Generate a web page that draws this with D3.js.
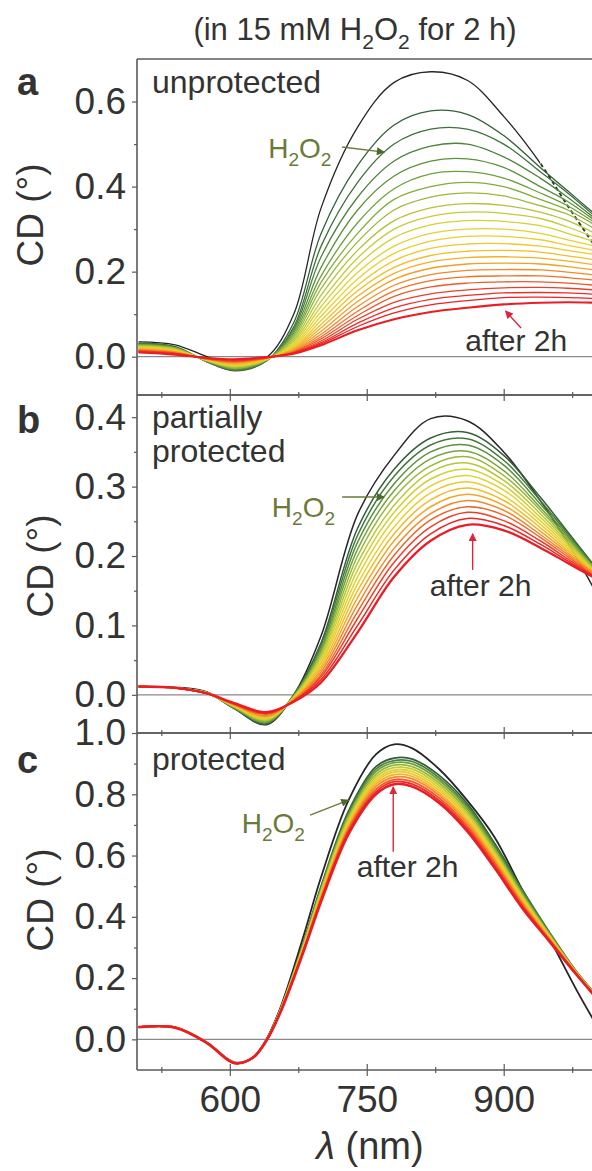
<!DOCTYPE html>
<html><head><meta charset="utf-8">
<script src="https://cdn.jsdelivr.net/npm/d3@7"></script>
<style>
body{margin:0;background:#fff;}
svg{display:block;}
text{font-family:"Liberation Sans",Arial,Helvetica,sans-serif;fill:#333;}
</style>
</head><body>
<svg id="chart" width="592" height="1171"></svg>
<script>
// ---------- DATA ----------
const wavelengthsAB = [500, 540, 575, 605, 640, 670, 700, 740, 780, 820, 860, 900, 940, 970, 1000];
const wavelengthsC  = [500, 540, 575, 605, 625, 640, 655, 680, 700, 730, 760, 780, 800, 830, 860, 890, 920, 950, 980, 1000];

// panel a (unprotected): first = before H2O2 (black), last = after 2 h (red)
const curvesA = [
 [0.035,0.028,0.000,-0.022,-0.002,0.100,0.350,0.540,0.645,0.670,0.650,0.565,0.455,0.355,0.260],
 [0.032,0.024,-0.012,-0.033,-0.010,0.080,0.290,0.450,0.545,0.578,0.570,0.520,0.445,0.390,0.335],
 [0.031,0.023,-0.012,-0.032,-0.010,0.070,0.260,0.410,0.500,0.535,0.535,0.500,0.435,0.385,0.330],
 [0.030,0.022,-0.011,-0.031,-0.009,0.065,0.235,0.375,0.460,0.495,0.500,0.470,0.420,0.375,0.325],
 [0.029,0.021,-0.011,-0.029,-0.009,0.060,0.210,0.345,0.425,0.460,0.465,0.445,0.400,0.365,0.320],
 [0.028,0.021,-0.010,-0.028,-0.008,0.055,0.190,0.315,0.395,0.430,0.435,0.420,0.385,0.355,0.315],
 [0.027,0.020,-0.010,-0.027,-0.008,0.050,0.175,0.290,0.370,0.400,0.410,0.400,0.370,0.345,0.310],
 [0.026,0.019,-0.010,-0.026,-0.008,0.045,0.160,0.270,0.345,0.375,0.385,0.378,0.355,0.335,0.300],
 [0.025,0.018,-0.009,-0.024,-0.007,0.040,0.145,0.250,0.320,0.350,0.360,0.356,0.340,0.320,0.290],
 [0.024,0.017,-0.009,-0.023,-0.007,0.036,0.130,0.232,0.300,0.330,0.340,0.337,0.325,0.305,0.280],
 [0.023,0.016,-0.008,-0.022,-0.006,0.032,0.118,0.215,0.280,0.310,0.320,0.318,0.308,0.290,0.270],
 [0.022,0.015,-0.008,-0.021,-0.006,0.028,0.106,0.198,0.260,0.290,0.300,0.300,0.290,0.275,0.260],
 [0.021,0.015,-0.008,-0.020,-0.006,0.025,0.095,0.183,0.243,0.272,0.283,0.283,0.275,0.262,0.250],
 [0.020,0.014,-0.007,-0.018,-0.005,0.022,0.085,0.168,0.226,0.255,0.265,0.266,0.260,0.250,0.240],
 [0.019,0.013,-0.007,-0.017,-0.005,0.020,0.076,0.155,0.210,0.238,0.248,0.250,0.246,0.237,0.228],
 [0.018,0.012,-0.006,-0.016,-0.004,0.018,0.068,0.142,0.196,0.223,0.233,0.235,0.232,0.225,0.216],
 [0.017,0.011,-0.006,-0.015,-0.004,0.016,0.060,0.130,0.182,0.208,0.218,0.220,0.218,0.212,0.204],
 [0.016,0.010,-0.005,-0.013,-0.003,0.014,0.053,0.118,0.168,0.193,0.203,0.205,0.204,0.199,0.192],
 [0.015,0.009,-0.005,-0.012,-0.003,0.012,0.047,0.107,0.155,0.179,0.188,0.190,0.190,0.186,0.180],
 [0.014,0.008,-0.005,-0.011,-0.003,0.011,0.042,0.097,0.142,0.164,0.173,0.176,0.176,0.173,0.168],
 [0.013,0.008,-0.004,-0.010,-0.002,0.010,0.037,0.088,0.128,0.148,0.157,0.162,0.163,0.161,0.157],
 [0.012,0.007,-0.004,-0.008,-0.002,0.009,0.033,0.079,0.115,0.135,0.144,0.150,0.151,0.150,0.147],
 [0.011,0.006,-0.003,-0.007,-0.001,0.008,0.030,0.071,0.103,0.122,0.132,0.139,0.140,0.139,0.137],
 [0.010,0.005,-0.003,-0.006,-0.001,0.007,0.027,0.062,0.088,0.105,0.115,0.123,0.127,0.128,0.127]
];

// panel b (partially protected)
const curvesB = [
 [0.012,0.011,0.004,-0.020,-0.043,0.000,0.085,0.260,0.345,0.398,0.395,0.350,0.280,0.220,0.150],
 [0.012,0.010,0.003,-0.020,-0.042,0.000,0.075,0.240,0.325,0.370,0.378,0.345,0.285,0.235,0.185],
 [0.012,0.010,0.003,-0.019,-0.041,-0.001,0.071,0.230,0.315,0.360,0.369,0.338,0.280,0.232,0.184],
 [0.012,0.010,0.003,-0.019,-0.040,-0.001,0.067,0.220,0.304,0.350,0.360,0.331,0.275,0.229,0.183],
 [0.012,0.010,0.003,-0.018,-0.039,-0.002,0.064,0.210,0.294,0.340,0.351,0.323,0.270,0.226,0.182],
 [0.012,0.010,0.003,-0.018,-0.037,-0.003,0.060,0.200,0.284,0.330,0.343,0.316,0.266,0.223,0.180],
 [0.012,0.010,0.003,-0.017,-0.036,-0.003,0.056,0.190,0.273,0.321,0.334,0.309,0.261,0.220,0.179],
 [0.012,0.010,0.003,-0.017,-0.035,-0.004,0.052,0.180,0.263,0.311,0.325,0.302,0.256,0.217,0.178],
 [0.012,0.010,0.002,-0.016,-0.034,-0.005,0.048,0.170,0.253,0.301,0.316,0.295,0.251,0.214,0.177],
 [0.012,0.010,0.002,-0.016,-0.033,-0.005,0.045,0.160,0.242,0.291,0.307,0.287,0.246,0.211,0.176],
 [0.012,0.010,0.002,-0.015,-0.032,-0.006,0.041,0.150,0.232,0.281,0.298,0.280,0.241,0.208,0.175],
 [0.012,0.010,0.002,-0.015,-0.031,-0.007,0.037,0.140,0.222,0.271,0.289,0.273,0.236,0.205,0.174],
 [0.012,0.010,0.002,-0.014,-0.030,-0.007,0.033,0.130,0.211,0.261,0.280,0.266,0.231,0.202,0.173],
 [0.012,0.010,0.002,-0.014,-0.028,-0.008,0.029,0.120,0.201,0.252,0.271,0.259,0.227,0.199,0.171],
 [0.012,0.010,0.002,-0.013,-0.027,-0.009,0.026,0.110,0.191,0.242,0.263,0.251,0.222,0.196,0.170],
 [0.012,0.010,0.002,-0.013,-0.026,-0.009,0.022,0.100,0.180,0.232,0.254,0.244,0.217,0.193,0.169],
 [0.012,0.010,0.002,-0.012,-0.025,-0.010,0.018,0.090,0.170,0.222,0.245,0.237,0.212,0.190,0.168]
];

// panel c (protected)
const curvesC = [
 [0.040,0.040,-0.010,-0.075,-0.060,0.000,0.100,0.330,0.530,0.780,0.930,0.963,0.950,0.880,0.780,0.660,0.490,0.330,0.160,0.055],
 [0.040,0.039,-0.011,-0.077,-0.061,-0.003,0.095,0.310,0.500,0.745,0.890,0.918,0.915,0.860,0.770,0.640,0.490,0.350,0.220,0.150],
 [0.040,0.039,-0.011,-0.077,-0.061,-0.004,0.094,0.307,0.495,0.738,0.882,0.910,0.907,0.852,0.762,0.633,0.485,0.347,0.219,0.149],
 [0.040,0.039,-0.011,-0.077,-0.061,-0.004,0.093,0.305,0.491,0.731,0.874,0.903,0.899,0.844,0.754,0.625,0.479,0.345,0.218,0.148],
 [0.040,0.039,-0.011,-0.077,-0.061,-0.004,0.092,0.302,0.486,0.725,0.865,0.895,0.890,0.835,0.745,0.618,0.474,0.342,0.217,0.147],
 [0.040,0.039,-0.011,-0.077,-0.061,-0.004,0.091,0.299,0.482,0.718,0.857,0.887,0.882,0.827,0.737,0.611,0.468,0.339,0.216,0.146],
 [0.040,0.039,-0.011,-0.077,-0.061,-0.004,0.090,0.296,0.477,0.711,0.849,0.879,0.874,0.819,0.729,0.604,0.463,0.336,0.215,0.145],
 [0.040,0.039,-0.011,-0.077,-0.061,-0.004,0.090,0.294,0.473,0.704,0.841,0.872,0.866,0.811,0.721,0.596,0.457,0.334,0.215,0.145],
 [0.040,0.039,-0.011,-0.077,-0.061,-0.004,0.089,0.291,0.468,0.697,0.833,0.864,0.858,0.803,0.713,0.589,0.452,0.331,0.214,0.144],
 [0.040,0.039,-0.011,-0.077,-0.061,-0.004,0.088,0.288,0.464,0.690,0.825,0.856,0.850,0.795,0.705,0.582,0.446,0.328,0.213,0.143],
 [0.040,0.039,-0.011,-0.077,-0.061,-0.004,0.087,0.285,0.459,0.684,0.816,0.848,0.841,0.786,0.696,0.575,0.441,0.325,0.212,0.142],
 [0.040,0.039,-0.011,-0.077,-0.061,-0.004,0.086,0.283,0.455,0.677,0.808,0.841,0.833,0.778,0.688,0.567,0.435,0.323,0.211,0.141],
 [0.040,0.038,-0.012,-0.078,-0.060,-0.005,0.085,0.280,0.450,0.670,0.800,0.833,0.825,0.770,0.680,0.560,0.430,0.320,0.210,0.140]
];

const yMajorA = [0.0, 0.2, 0.4, 0.6], yMinorA = [0.1, 0.3, 0.5];
const yMajorB = [0.0, 0.1, 0.2, 0.3, 0.4], yMinorB = [0.05, 0.15, 0.25, 0.35];
const yMajorC = [0.0, 0.2, 0.4, 0.6, 0.8, 1.0], yMinorC = [0.1, 0.3, 0.5, 0.7, 0.9];
const xMajor = [600, 750, 900], xMinor = [525, 675, 825, 975];
const panelLetters = ["a", "b", "c"];
const panelNames = [["unprotected"], ["partially", "protected"], ["protected"]];
const titleParts = [["(in 15 mM H", 0], ["2", 1], ["O", 0], ["2", 1], [" for 2 h)", 0]];
// black curve of panel a is drawn dashed beyond this wavelength
const dashFromA = 940;
// annotations in data coordinates: [textλ, textV, tailλ, tailV, tipλ, tipV]
const annotH2O2 = [[642, 0.467, 723, 0.493, 769, 0.481], [646, 0.256, 723, 0.285, 769, 0.285], [613, 0.674, 688, 0.732, 730, 0.781]];
const annotAfter = [[858, 0.0135, 919, 0.0675, 902, 0.1075], [819, 0.142, 866, 0.180, 866, 0.232], [739, 0.530, 779, 0.612, 779, 0.824]];

// ---------- LAYOUT ----------
const svg = d3.select("#chart");
const x = d3.scaleLinear().domain([500, 1000]).range([138.5, 595]);
const axisX = 137, frameRight = 592;
const panels = [
  {top: 59,  bottom: 395,  domain: [-0.09, 0.70],  major: yMajorA, minor: yMinorA, curves: curvesA, wl: wavelengthsAB, lw: 1.3, letterY: 95,  names: [93], cdY: 215, cdX: 43, dashFrom: dashFromA},
  {top: 395, bottom: 733,  domain: [-0.055, 0.432], major: yMajorB, minor: yMinorB, curves: curvesB, wl: wavelengthsAB, lw: 1.5, letterY: 433, names: [428, 462], cdY: 566, cdX: 53},
  {top: 733, bottom: 1070, domain: [-0.1, 1.0],    major: yMajorC, minor: yMinorC, curves: curvesC, wl: wavelengthsC, lw: 1.8, letterY: 773, names: [770], cdY: 900, cdX: 53}
];
const palette = ["#33603a", "#4f8a3c", "#80ad3a", "#b9c93a", "#e2d630", "#f0cb2a", "#f4a824", "#f3712a", "#ee2a26", "#ec1c24"];
const colorOf = (k, n) => k === 0 ? "#262626" : d3.interpolateRgbBasis(palette)((k - 1) / (n - 2));
const frameColor = "#5a5a5a", olive = "#6b7a38", arrowGreen = "#4a6a2a", redText = "#e03444";

const defs = svg.append("defs");
function marker(id, color) {
  defs.append("marker").attr("id", id).attr("viewBox", "0 0 10 10").attr("refX", 9).attr("refY", 5)
    .attr("markerWidth", 9).attr("markerHeight", 8).attr("markerUnits", "userSpaceOnUse").attr("orient", "auto")
    .append("path").attr("d", "M0,0 L10,5 L0,10 z").attr("fill", color);
}
marker("arrG", arrowGreen); marker("arrR", "#d8283a");

function chem(textSel, parts, fs) {
  parts.forEach(([s, sub], i) => {
    const prevSub = i > 0 && parts[i - 1][1];
    const t = textSel.append("tspan").text(s);
    if (sub) t.attr("font-size", fs * 0.68).attr("dy", fs * 0.28);
    else if (prevSub) t.attr("dy", -fs * 0.28);
  });
}

panels.forEach((p, pi) => {
  const y = d3.scaleLinear().domain(p.domain).range([p.bottom, p.top]);
  const g = svg.append("g");
  const clipId = "clip" + pi;
  defs.append("clipPath").attr("id", clipId).append("rect")
    .attr("x", axisX).attr("y", p.top).attr("width", frameRight - axisX).attr("height", p.bottom - p.top);

  // zero line
  g.append("line").attr("x1", axisX).attr("x2", frameRight).attr("y1", y(0)).attr("y2", y(0))
    .attr("stroke", "#8a8a8a").attr("stroke-width", 1.3);

  // curves
  const line = d3.line().x(d => x(d[0])).y(d => y(d[1])).curve(d3.curveCatmullRom.alpha(0.5));
  const cg = g.append("g").attr("clip-path", `url(#${clipId})`);
  const n = p.curves.length;
  p.curves.forEach((vals, k) => {
    const pts = vals.map((v, i) => [p.wl[i], v]);
    if (k === 0 && p.dashFrom) {
      const c1 = "clipS" + pi, c2 = "clipD" + pi;
      defs.append("clipPath").attr("id", c1).append("rect").attr("x", axisX).attr("y", p.top)
        .attr("width", x(p.dashFrom) - axisX).attr("height", p.bottom - p.top);
      defs.append("clipPath").attr("id", c2).append("rect").attr("x", x(p.dashFrom)).attr("y", p.top)
        .attr("width", frameRight - x(p.dashFrom)).attr("height", p.bottom - p.top);
      cg.append("path").datum(pts).attr("d", line).attr("fill", "none").attr("stroke", colorOf(0, n))
        .attr("stroke-width", p.lw).attr("clip-path", `url(#${c1})`);
      cg.append("path").datum(pts).attr("d", line).attr("fill", "none").attr("stroke", "#2a3a22")
        .attr("stroke-width", p.lw + 0.6).attr("stroke-dasharray", "4,3").attr("clip-path", `url(#${c2})`);
      return;
    }
    cg.append("path").datum(pts)
      .attr("d", line).attr("fill", "none")
      .attr("stroke", colorOf(k, n))
      .attr("stroke-width", k === n - 1 ? p.lw + 0.8 : p.lw)
      .attr("stroke-linejoin", "round");
  });

  // y axis
  const ya = g.append("g").attr("transform", `translate(${axisX},0)`)
    .call(d3.axisLeft(y).tickValues(p.major).tickSize(5).tickSizeOuter(0).tickPadding(6).tickFormat(d3.format(".1f")));
  ya.select(".domain").remove();
  ya.selectAll("line").attr("stroke", frameColor).attr("stroke-width", 1.2);
  ya.selectAll("text").attr("font-size", 37).attr("fill", "#333").attr("font-family", "Liberation Sans, Arial, sans-serif");
  const ym = g.append("g").attr("transform", `translate(${axisX},0)`)
    .call(d3.axisLeft(y).tickValues(p.minor).tickSize(3).tickSizeOuter(0).tickFormat(""));
  ym.select(".domain").remove();
  ym.selectAll("line").attr("stroke", frameColor).attr("stroke-width", 1.2);

  // bottom x axis of panel (ticks crossing both ways)
  [d3.axisBottom, d3.axisTop].forEach(ax => {
    const a1 = g.append("g").attr("transform", `translate(0,${p.bottom})`)
      .call(ax(x).tickValues(xMajor).tickSize(6).tickSizeOuter(0).tickFormat(""));
    a1.select(".domain").remove();
    a1.selectAll("line").attr("stroke", frameColor).attr("stroke-width", 1.2);
    const a2 = g.append("g").attr("transform", `translate(0,${p.bottom})`)
      .call(ax(x).tickValues(xMinor).tickSize(3).tickSizeOuter(0).tickFormat(""));
    a2.select(".domain").remove();
    a2.selectAll("line").attr("stroke", frameColor).attr("stroke-width", 1.2);
  });

  // frame
  g.append("line").attr("x1", axisX).attr("x2", axisX).attr("y1", p.top).attr("y2", p.bottom)
    .attr("stroke", frameColor).attr("stroke-width", 1.6);
  [p.top, p.bottom].forEach(yy => g.append("line").attr("x1", axisX).attr("x2", frameRight)
    .attr("y1", yy).attr("y2", yy).attr("stroke", frameColor).attr("stroke-width", 1.6));

  // letter, names, y title
  svg.append("text").attr("x", 17).attr("y", p.letterY).attr("font-size", 38).attr("font-weight", "bold")
    .attr("fill", "#111").text(panelLetters[pi]);
  panelNames[pi].forEach((s, j) => svg.append("text").attr("x", 152).attr("y", p.names[j])
    .attr("font-size", 32).text(s));
  svg.append("text").attr("transform", `translate(${p.cdX},${p.cdY}) rotate(-90)`)
    .attr("text-anchor", "middle").attr("font-size", 37).text("CD (°)");

  // annotations
  const h = annotH2O2[pi], a = annotAfter[pi];
  g.append("line").attr("x1", x(h[2])).attr("y1", y(h[3])).attr("x2", x(h[4])).attr("y2", y(h[5]))
    .attr("stroke", olive).attr("stroke-width", 1.4).attr("marker-end", "url(#arrG)");
  const ht = svg.append("text").attr("x", x(h[0])).attr("y", y(h[1])).attr("font-size", 28).attr("fill", olive);
  chem(ht, [["H", 0], ["2", 1], ["O", 0], ["2", 1]], 28);
  ht.selectAll("tspan").attr("fill", olive);
  g.append("line").attr("x1", x(a[2])).attr("y1", y(a[3])).attr("x2", x(a[4])).attr("y2", y(a[5]))
    .attr("stroke", "#d8283a").attr("stroke-width", 1.4).attr("marker-end", "url(#arrR)");
  svg.append("text").attr("x", x(a[0])).attr("y", y(a[1])).attr("font-size", 30).attr("fill", redText)
    .text("after 2h");
});

// bottom tick labels
const last = panels[2];
const xl = svg.append("g").attr("transform", `translate(0,${last.bottom})`)
  .call(d3.axisBottom(x).tickValues(xMajor).tickSize(6).tickPadding(10).tickSizeOuter(0).tickFormat(d3.format("d")));
xl.select(".domain").remove();
xl.selectAll("line").remove();
xl.selectAll("text").attr("font-size", 37).attr("fill", "#333").attr("font-family", "Liberation Sans, Arial, sans-serif");

// x title
const xt = svg.append("text").attr("x", 370).attr("y", 1159).attr("text-anchor", "middle").attr("font-size", 38);
xt.append("tspan").attr("font-style", "italic").text("λ");
xt.append("tspan").text(" (nm)");

// title
const tt = svg.append("text").attr("x", 355).attr("y", 40).attr("text-anchor", "middle").attr("font-size", 31);
chem(tt, titleParts, 31);
</script>
</body></html>
